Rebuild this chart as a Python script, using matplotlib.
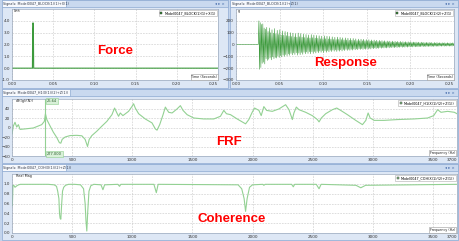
import numpy as np
import matplotlib
matplotlib.use('Agg')
import matplotlib.pyplot as plt
from matplotlib.lines import Line2D
from matplotlib.patches import Rectangle

# ---- data ----
force_t = [0.0, 0.0248, 0.0251, 0.0255, 0.0259, 0.0263, 0.25]
force_v = [0.0, 0.0, 3.2, 3.83, 3.6, 0.0, 0.0]

# response samples (alternating swings), evenly spaced from onset to end of record
resp_t0, resp_t1 = 0.0255, 0.25
resp_v = [
    0, 200, -210, 185, -195, 170, -160, 175, -150, 140, -165, 130, -120, 145, -135, 110, -125, 140, -115, 100,
    -130, 125, -105, 95, -120, 135, -110, 90, -115, 120, -100, 85, -110, 125, -95, 80, -105, 115, -90, 78,
    -100, 110, -85, 75, -95, 105, -80, 70, -92, 100, -76, 68, -88, 96, -72, 64, -85, 92, -70, 62,
    -90, 97, -73, 66, -86, 92, -68, 62, -83, 88, -66, 59, -79, 85, -63, 57, -76, 81, -61, 55,
    -79, 84, -62, 58, -76, 80, -60, 54, -72, 77, -58, 52, -70, 74, -55, 49, -66, 71, -53, 48,
    -69, 73, -55, 49, -66, 70, -52, 47, -62, 68, -49, 46, -60, 65, -48, 43, -57, 61, -46, 42,
    -59, 63, -48, 43, -57, 60, -45, 42, -55, 57, -43, 39, -52, 56, -42, 38, -50, 53, -41, 36,
    -49, 52, -41, 36, -48, 51, -39, 35, -45, 48, -38, 33, -44, 46, -36, 32, -42, 45, -35, 32,
    -42, 44, -35, 32, -41, 42, -33, 30, -39, 41, -32, 29, -38, 39, -30, 29, -36, 38, -29, 27,
    -35, 36, -29, 26, -33, 35, -27, 26, -32, 33, -26, 24, -30, 32, -26, 23, -30, 30, -24, 23,
    -29, 29, -23, 21, -27, 29, -23, 21, -27, 27, -21, 20, -26, 26, -21, 20, -24, 26, -20, 18,
    -24, 24, -20, 18, -23, 24, -18, 18, -23, 23, -18, 17, -21, 23, -18, 17, -21, 21, -17, 17,
    -20, 21, -17, 15, -20, 20, -17, 15, -18, 20, -15, 15, -18, 18, -15, 14, -18, 18, -15, 14,
    -17, 18, -14, 14, -17, 17, -14, 12, -17, 17, -14, 12, -15, 17, -14, 12, -15, 15, -12, 12,
    -15, 15, -12, 12, -15, 15, -12, 11, -14, 15, -12, 11, -14, 14, -12, 11, -14, 14, -11, 11,
]

frf_f = [0, 11, 25, 39, 53, 67, 108, 178, 247, 269, 278, 289, 317, 344, 372,
         394, 406, 417, 442, 483, 539, 581, 608, 628, 642, 664, 706, 747, 789,
         831, 853, 872, 886, 900, 922, 969, 997, 1011, 1025, 1053, 1108, 1164,
         1192, 1206, 1228, 1256, 1275, 1303, 1331, 1372, 1400, 1422, 1456, 1511,
         1594, 1678, 1733, 1761, 1783, 1817, 1872, 1942, 1969, 1997, 2017, 2053,
         2072, 2094, 2117, 2164, 2219, 2275, 2303, 2331, 2344, 2364, 2386, 2442,
         2497, 2539, 2553, 2572, 2608, 2664, 2700, 2733, 2789, 2858, 2914, 2942,
         2961, 2978, 3011, 3094, 3206, 3344, 3456, 3506, 3539, 3567, 3622, 3678,
         3700]
frf_db = [-14, 3, 11, 1, 6, -4, -3, -1, 6, 13, 29, 17, 3, -10, -21,
          -32, -33, -25, -20, -17, -16.5, -17.5, -25, -40, -25, -17, -7.6, 2.8, 13,
          27, 41, 30.6, 23.6, 30.6, 25, 34, 44, 50, 41, 29, 18, 9.7,
          -3, -5.6, 6, 27, 43, 32, 30.6, 39, 46, 36, 27, 20,
          18, 18, 23.6, 36, 29, 27, 18, 7.7, 16.7, 32, 41, 36,
          25, 44, 36, 34, 39, 48, 37.5, 16.7, 30.6, 43, 37.5, 32,
          25, 16.7, 11.8, 20, 29, 37.5, 41, 36, 27, 15, 6, 15,
          30.6, 20, 15, 15, 16.7, 18, 20, 25, 37.5, 32, 34, 32,
          29]

coh_f = [0, 3, 8, 15, 25, 40, 55, 70, 100, 200, 300, 350, 370, 380, 390, 395,
         400, 406, 412, 420, 430, 445, 470, 520, 570, 595, 608, 615, 622, 630,
         640, 655, 680, 740, 756, 770, 880, 894, 905, 1180, 1200, 1215, 1880,
         1910, 1930, 1942, 1955, 1975, 2000, 2085, 2094, 2105, 2325, 2339, 2350,
         2530, 2553, 2570, 2860, 2900, 2940, 3700]
coh_v = [0.97, 0.55, 0.96, 0.97, 0.93, 0.96, 0.98, 0.99, 0.99, 0.99, 0.99, 0.98,
         0.95, 0.85, 0.70, 0.40, 0.30, 0.28, 0.55, 0.85, 0.93, 0.97, 0.99, 0.99,
         0.98, 0.90, 0.60, 0.25, 0.04, 0.45, 0.85, 0.96, 0.99, 0.98, 0.88, 0.98,
         0.99, 0.95, 0.99, 0.99, 0.82, 0.99, 0.98, 0.90, 0.70, 0.44, 0.70, 0.93,
         0.98, 0.99, 0.97, 0.99, 0.99, 0.94, 0.99, 0.99, 0.90, 0.99, 0.97, 0.92,
         0.97, 0.99]

marker_f = 277.0
marker_db = 26.64

tab_titles = ['Signals: Model0047_BLOCK(1)(1)+X(1)',
              'Signals: Model0047_BLOCK(1)(2)+Z(1)',
              'Signals: Model0047_H1(X(1)/(2)+Z(1))',
              'Signals: Model0047_COH(X(1)/(2)+Z(1))']
legend_names = ['Model0047_BLOCK(1)(1)+X(1)', 'Model0047_BLOCK(1)(2)+Z(1)',
                'Model0047_H1(X(1)/(2)+Z(1))', 'Model0047_COH(X(1)/(2)+Z(1))']

W, H = 460, 241
fig = plt.figure(figsize=(W / 100, H / 100), dpi=100, facecolor='#c3d4ec')


def fbox(l, t, r, b):
    return [l / W, 1 - b / H, (r - l) / W, (b - t) / H]


def rect(l, t, r, b, fc, ec='none', lw=0.5):
    x, y, w, h = fbox(l, t, r, b)
    fig.add_artist(Rectangle((x, y), w, h, transform=fig.transFigure,
                             fc=fc, ec=ec, lw=lw, zorder=-10))


# window chrome: panels, header strips, tabs
panels = [(2, 0, 228, 88), (230, 0, 458, 88), (2, 89, 458, 163), (2, 164, 458, 240)]
tabs = [(2, 0, 66, 7), (230, 0, 290, 7), (2, 89, 70, 96), (2, 164, 66, 171)]
for (l, t, r, b), (tl, tt, tr, tb), title in zip(panels, tabs, tab_titles):
    rect(l, t, r, b, '#dde7f5', '#8eaad2')
    rect(l, t, r, t + 7, '#c9d9ef', '#8eaad2')
    rect(tl, tt, tr, tb, '#f7f9fd', '#8eaad2')
    fig.text((tl + 1.5) / W, 1 - (tt + 3.8) / H, title, fontsize=2.4,
             color='#303848', va='center', ha='left')
    fig.text((r - 3) / W, 1 - (t + 3.6) / H, '\u25c2 \u25b8 \u00d7', fontsize=2.8,
             color='#3f67a8', va='center', ha='right')

green_dark = '#3c9a3c'
green_light = '#93d193'


def style(ax, legend_label, color, xlabel):
    ax.set_facecolor('white')
    for s in ax.spines.values():
        s.set_color('#9aa8bc')
        s.set_linewidth(0.5)
    ax.grid(True, color='#c4c4c4', ls=(0, (3, 2)), lw=0.4)
    ax.tick_params(labelsize=3, length=0, pad=1.5, colors='#333333')
    labels = ax.get_xticklabels()
    labels[-1].set_horizontalalignment('right')
    h = Line2D([], [], color=color, lw=0, marker='s', ms=1.6, mfc=color, mec='#222222', mew=0.3)
    leg = ax.legend([h], [legend_label], loc='upper right', fontsize=2.4, frameon=True,
                    fancybox=False, borderpad=0.3, handlelength=0.8, handletextpad=0.6,
                    borderaxespad=0.4)
    leg.get_frame().set_linewidth(0.4)
    leg.get_frame().set_edgecolor('#9a9a9a')
    ax.text(0.997, 0.012, xlabel, transform=ax.transAxes, ha='right', va='bottom',
            fontsize=2.4, color='#222222',
            bbox=dict(boxstyle='square,pad=0.25', fc='white', ec='#9a9a9a', lw=0.4))


# Force
ax1 = fig.add_axes(fbox(12, 9, 218, 80))
ax1.plot(force_t, force_v, color=green_dark, lw=0.8)
ax1.set_xlim(0, 0.25)
ax1.set_ylim(-1, 5)
ax1.set_xticks(np.arange(0, 0.2501, 0.05))
ax1.set_xticklabels(['%.2f' % v for v in np.arange(0, 0.2501, 0.05)])
ax1.set_yticks(np.arange(-1, 4.1, 1))
ax1.set_yticklabels(['%.1f' % v for v in np.arange(-1, 4.1, 1)])
style(ax1, legend_names[0], green_dark, 'Time (Seconds)')
ax1.text(0.01, 0.995, 'Unit', transform=ax1.transAxes, fontsize=2.4, va='top', color='#222222')

# Response
ax2 = fig.add_axes(fbox(236, 9, 454, 80))
rt = np.linspace(resp_t0, resp_t1, len(resp_v))
ax2.plot([0.0] + list(rt), [0.0] + resp_v, color=green_dark, lw=0.4)
ax2.set_xlim(0, 0.25)
ax2.set_ylim(-300, 300)
ax2.set_xticks(np.arange(0, 0.2501, 0.05))
ax2.set_xticklabels(['%.2f' % v for v in np.arange(0, 0.2501, 0.05)])
ax2.set_yticks(np.arange(-300, 201, 100))
style(ax2, legend_names[1], green_dark, 'Time (Seconds)')
ax2.text(0.01, 0.995, 'g', transform=ax2.transAxes, fontsize=2.4, va='top', color='#222222')

fticks = [0, 500, 1000, 1500, 2000, 2500, 3000, 3500, 3700]

# FRF
ax3 = fig.add_axes(fbox(12, 99, 457, 156))
ax3.plot(frf_f, frf_db, color=green_light, lw=0.8)
ax3.axvline(marker_f, color=green_light, lw=0.8)
ax3.set_xlim(0, 3700)
ax3.set_ylim(-60, 60)
ax3.set_xticks(fticks)
ax3.set_xticklabels([str(v) for v in fticks])
ax3.set_yticks(np.arange(-60, 41, 20))
style(ax3, legend_names[2], green_light, 'Frequency (Hz)')
ax3.text(0.008, 0.995, 'dB((g)/(N))', transform=ax3.transAxes, fontsize=2.4, va='top', color='#222222')
ax3.text(marker_f + 15, 55, '%.2f' % marker_db, fontsize=2.6, va='center', ha='left', color='#2a5a2a',
         bbox=dict(boxstyle='square,pad=0.3', fc='#d8f0d8', ec='#8fcf8f', lw=0.4))
ax3.text(marker_f + 15, -55, '%.3f' % marker_f, fontsize=2.6, va='center', ha='left', color='#2a5a2a',
         bbox=dict(boxstyle='square,pad=0.3', fc='#d8f0d8', ec='#8fcf8f', lw=0.4))

# Coherence
ax4 = fig.add_axes(fbox(12, 174, 457, 233))
ax4.plot(coh_f, coh_v, color=green_light, lw=0.8)
ax4.set_xlim(0, 3700)
ax4.set_ylim(0, 1.2)
ax4.set_xticks(fticks)
ax4.set_xticklabels([str(v) for v in fticks])
ax4.set_yticks(np.arange(0, 1.01, 0.2))
ax4.set_yticklabels(['%.1f' % v for v in np.arange(0, 1.01, 0.2)])
style(ax4, legend_names[3], green_light, 'Frequency (Hz)')
ax4.text(0.008, 0.995, 'Real Mag', transform=ax4.transAxes, fontsize=2.4, va='top', color='#222222')

# big red captions
red = dict(color='#ff0000', fontsize=9.5, fontweight='bold', family='Liberation Sans',
           ha='center', va='center')
fig.text(115 / W, 1 - 51 / H, 'Force', **red)
fig.text(346 / W, 1 - 63 / H, 'Response', **red)
fig.text(229 / W, 1 - 142 / H, 'FRF', **red)
fig.text(232 / W, 1 - 219 / H, 'Coherence', **red)

fig.savefig('out.png', dpi=100, facecolor=fig.get_facecolor())
